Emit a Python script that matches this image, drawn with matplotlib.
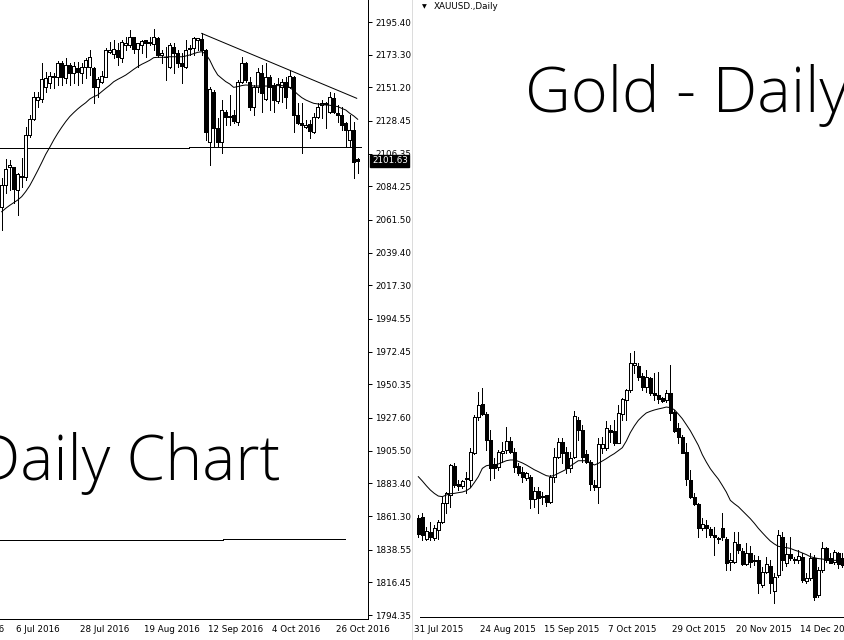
import numpy as np
import matplotlib.pyplot as plt
from matplotlib.lines import Line2D
from matplotlib.transforms import blended_transform_factory, offset_copy

# ---- left chart (2016) ----
left_open = [2070.5, 2085.2, 2097.1, 2097.1, 2081.8, 2090.4, 2090.8, 2119.0, 2129.8, 2142.7,
             2143.1, 2151.7, 2153.9, 2158.0, 2158.0, 2167.5, 2157.3, 2166.3, 2161.2, 2164.1,
             2161.2, 2165.2, 2165.2, 2164.1, 2151.2, 2155.1, 2158.5, 2175.4, 2173.8, 2176.5,
             2170.9, 2179.9, 2179.9, 2185.1, 2176.9, 2179.9, 2183.3, 2181.0, 2180.5, 2184.4,
             2173.1, 2172.0, 2165.2, 2178.7, 2174.7, 2167.9, 2165.2, 2176.9, 2177.6, 2183.3,
             2183.7, 2176.5, 2114.5, 2148.3, 2123.5, 2114.5, 2134.8, 2131.9, 2132.5, 2128.0,
             2155.1, 2167.5, 2155.1, 2138.2, 2151.7, 2160.7, 2143.1, 2158.0, 2152.8, 2142.2,
             2151.7, 2155.1, 2151.2, 2158.5, 2132.5, 2126.9, 2124.2, 2126.4, 2121.3, 2131.4,
             2139.3, 2140.4, 2134.8, 2143.8, 2133.7, 2132.5, 2126.9, 2115.6, 2122.4, 2102.6]
left_high = [2089.7, 2102.6, 2102.1, 2097.6, 2093.1, 2103.2, 2124.6, 2132.5, 2148.3, 2148.3,
             2167.5, 2161.8, 2161.8, 2160.7, 2169.1, 2169.1, 2170.9, 2167.5, 2168.6, 2168.6,
             2167.5, 2170.9, 2176.5, 2165.2, 2158.0, 2162.5, 2177.6, 2182.1, 2183.3, 2181.0,
             2183.3, 2185.5, 2190.0, 2185.5, 2181.4, 2183.3, 2183.3, 2185.5, 2190.5, 2185.5,
             2176.5, 2178.7, 2181.0, 2181.0, 2176.5, 2174.2, 2183.3, 2179.9, 2185.5, 2184.4,
             2187.7, 2176.9, 2151.2, 2149.4, 2130.3, 2142.7, 2135.9, 2146.1, 2135.9, 2156.2,
             2171.5, 2168.6, 2158.5, 2152.8, 2164.1, 2166.3, 2167.5, 2159.6, 2153.9, 2157.3,
             2156.7, 2158.5, 2163.0, 2158.9, 2140.4, 2140.9, 2129.2, 2129.2, 2133.7, 2140.4,
             2142.7, 2141.5, 2148.3, 2147.2, 2139.3, 2138.2, 2128.0, 2132.5, 2128.0, 2103.2]
left_low = [2054.8, 2079.6, 2081.8, 2072.8, 2064.9, 2084.1, 2088.6, 2117.9, 2129.2, 2138.2,
            2141.5, 2148.3, 2150.6, 2150.6, 2152.8, 2152.8, 2153.9, 2152.8, 2153.9, 2152.8,
            2153.9, 2157.3, 2159.6, 2140.4, 2144.9, 2153.9, 2158.0, 2174.2, 2170.9, 2166.3,
            2168.6, 2176.5, 2178.7, 2174.2, 2165.2, 2174.2, 2172.0, 2179.9, 2176.5, 2172.0,
            2167.5, 2156.2, 2164.1, 2160.7, 2165.2, 2153.9, 2164.1, 2173.1, 2173.1, 2176.5,
            2173.1, 2115.6, 2098.7, 2111.1, 2111.1, 2106.6, 2125.8, 2125.8, 2126.9, 2125.8,
            2153.9, 2155.1, 2135.9, 2132.5, 2148.3, 2134.8, 2142.7, 2135.9, 2134.8, 2140.4,
            2141.5, 2137.0, 2150.6, 2121.3, 2126.4, 2106.6, 2123.5, 2116.8, 2120.1, 2130.3,
            2130.3, 2123.5, 2133.7, 2133.7, 2128.0, 2122.4, 2111.1, 2111.1, 2089.7, 2093.5]
left_close = [2085.2, 2095.8, 2098.7, 2082.3, 2092.6, 2091.3, 2119.0, 2129.6, 2144.5, 2144.9,
              2156.7, 2157.3, 2158.9, 2158.9, 2167.9, 2158.5, 2166.3, 2161.2, 2165.7, 2161.8,
              2165.2, 2169.7, 2171.5, 2151.2, 2156.7, 2158.9, 2176.5, 2176.5, 2176.9, 2172.0,
              2182.1, 2181.0, 2185.5, 2176.9, 2181.0, 2182.8, 2181.0, 2182.1, 2185.5, 2173.1,
              2174.2, 2171.5, 2179.9, 2174.2, 2167.5, 2165.7, 2176.5, 2178.1, 2184.4, 2184.4,
              2176.5, 2121.3, 2149.9, 2123.5, 2114.5, 2135.9, 2131.4, 2130.9, 2128.7, 2155.1,
              2167.5, 2156.2, 2138.2, 2151.7, 2161.8, 2147.2, 2158.0, 2151.7, 2142.7, 2153.5,
              2155.1, 2144.9, 2158.9, 2132.5, 2126.9, 2125.8, 2125.8, 2121.7, 2131.4, 2138.2,
              2140.4, 2140.0, 2144.9, 2134.8, 2132.5, 2125.8, 2122.4, 2122.4, 2101.0, 2101.63]
left_ma = [2067.1, 2069.4, 2071.4, 2073.2, 2075.0, 2077.3, 2080.7, 2084.7, 2089.7, 2094.9,
           2100.3, 2105.9, 2110.6, 2115.6, 2120.1, 2124.2, 2128.0, 2131.4, 2134.1, 2136.6,
           2138.8, 2140.8, 2143.3, 2144.9, 2146.0, 2148.3, 2150.5, 2152.6, 2155.0, 2156.6,
           2158.0, 2159.5, 2161.4, 2163.4, 2165.2, 2166.8, 2168.1, 2169.5, 2171.3, 2171.5,
           2171.5, 2171.7, 2171.9, 2171.9, 2171.9, 2171.9, 2172.4, 2173.1, 2174.0, 2174.9,
           2175.3, 2173.8, 2169.7, 2164.1, 2159.6, 2157.3, 2155.1, 2153.5, 2151.2, 2151.7,
           2152.4, 2152.8, 2152.6, 2152.1, 2152.1, 2152.1, 2152.1, 2152.1, 2152.1, 2152.4,
           2152.4, 2152.1, 2151.2, 2149.0, 2146.5, 2144.3, 2142.7, 2141.5, 2140.4, 2140.0,
           2139.5, 2139.3, 2139.1, 2138.6, 2138.2, 2137.0, 2135.9, 2133.7, 2131.9, 2129.6]
left_dates = ["6 Jul 2016", "28 Jul 2016", "19 Aug 2016", "12 Sep 2016", "4 Oct 2016", "26 Oct 2016"]
left_date_bars = [3, 19, 35, 51, 67, 83]
trend_bars = [50, 88.75]
trend_prices = [2187.7, 2143.8]
support_bars = [-0.5, 46.8, 89.8]
support_prices = [2110.4, 2110.9]
lower_bars = [-0.5, 55.3, 85.8]
lower_prices = [1845.1, 1845.6]
last_price = 2101.63

price_ticks = [2195.40, 2173.30, 2151.20, 2128.45, 2106.35, 2084.25, 2061.50, 2039.40, 2017.30,
               1994.55, 1972.45, 1950.35, 1927.60, 1905.50, 1883.40, 1861.30, 1838.55, 1816.45, 1794.35]

# ---- right chart (2015) ----
right_open = [1859.7, 1860.4, 1845.5, 1850.7, 1846.2, 1851.8, 1857.5, 1869.9, 1875.5, 1895.1,
              1883.0, 1881.6, 1886.1, 1885.7, 1903.7, 1928.5, 1937.1, 1930.3, 1912.7, 1896.5,
              1894.7, 1904.1, 1905.9, 1912.0, 1904.8, 1895.1, 1891.3, 1887.2, 1887.9, 1872.6,
              1878.2, 1875.1, 1875.5, 1871.0, 1887.9, 1901.4, 1911.6, 1904.8, 1893.5, 1901.0,
              1926.2, 1919.5, 1903.2, 1898.0, 1882.3, 1880.7, 1907.1, 1907.1, 1919.5, 1919.0,
              1910.9, 1930.3, 1939.8, 1946.5, 1963.4, 1962.8, 1956.0, 1948.3, 1954.4, 1944.7,
              1943.1, 1940.9, 1939.8, 1944.3, 1931.9, 1920.6, 1915.0, 1904.4, 1885.7, 1874.4,
              1869.4, 1853.0, 1855.2, 1852.5, 1848.5, 1846.7, 1853.0, 1845.5, 1830.4, 1830.4,
              1842.4, 1837.9, 1828.9, 1836.1, 1831.6, 1831.6, 1814.6, 1823.6, 1827.5, 1810.8,
              1821.4, 1847.3, 1829.8, 1835.6, 1832.5, 1831.6, 1833.4, 1817.6, 1819.2, 1832.7,
              1807.9, 1824.8, 1839.4, 1832.7, 1830.4, 1836.1, 1832.7]
right_high = [1862.0, 1863.1, 1854.1, 1857.5, 1855.2, 1858.6, 1874.4, 1877.8, 1896.5, 1896.9,
              1885.7, 1885.7, 1891.3, 1907.1, 1929.6, 1945.4, 1947.7, 1931.9, 1919.5, 1900.3,
              1905.9, 1911.6, 1921.7, 1915.0, 1907.1, 1897.4, 1894.7, 1891.3, 1889.0, 1881.2,
              1881.2, 1877.8, 1875.5, 1889.0, 1907.1, 1913.8, 1913.8, 1908.2, 1904.8, 1932.6,
              1928.5, 1922.9, 1905.9, 1899.2, 1885.7, 1913.8, 1915.0, 1925.8, 1922.9, 1926.2,
              1936.4, 1940.9, 1947.0, 1971.3, 1973.1, 1964.6, 1957.8, 1960.1, 1955.1, 1957.8,
              1958.9, 1942.0, 1946.5, 1963.4, 1933.0, 1924.0, 1916.1, 1910.5, 1892.4, 1876.6,
              1869.9, 1859.7, 1858.6, 1854.1, 1854.1, 1847.3, 1863.1, 1847.3, 1836.1, 1850.7,
              1850.7, 1839.4, 1842.8, 1841.0, 1834.9, 1834.3, 1827.1, 1833.8, 1831.6, 1822.5,
              1851.8, 1850.7, 1842.8, 1847.3, 1833.8, 1838.3, 1836.1, 1822.5, 1836.1, 1834.9,
              1827.1, 1843.9, 1840.6, 1836.1, 1838.3, 1837.2, 1836.1]
right_low = [1847.3, 1845.1, 1845.1, 1845.1, 1845.1, 1845.5, 1856.3, 1863.1, 1867.6, 1881.2,
             1878.9, 1880.0, 1876.6, 1881.2, 1903.2, 1926.2, 1929.6, 1905.9, 1885.7, 1886.8,
             1892.4, 1898.0, 1903.7, 1903.7, 1891.3, 1889.0, 1884.5, 1885.7, 1866.5, 1867.6,
             1863.6, 1869.4, 1868.1, 1869.9, 1884.5, 1900.3, 1896.9, 1890.2, 1891.3, 1900.3,
             1912.7, 1898.0, 1896.9, 1878.9, 1878.9, 1870.3, 1903.7, 1905.9, 1911.6, 1909.3,
             1910.5, 1926.2, 1926.2, 1945.4, 1957.8, 1953.3, 1946.5, 1945.4, 1943.1, 1939.8,
             1937.5, 1938.6, 1938.6, 1926.2, 1918.3, 1910.5, 1903.7, 1882.3, 1873.3, 1868.8,
             1847.3, 1851.8, 1847.3, 1847.3, 1834.9, 1842.8, 1845.1, 1824.8, 1824.8, 1829.3,
             1836.1, 1828.2, 1828.2, 1827.1, 1828.2, 1809.0, 1813.5, 1822.5, 1809.0, 1802.3,
             1820.3, 1824.8, 1827.5, 1831.6, 1829.3, 1829.3, 1816.9, 1816.2, 1818.0, 1804.5,
             1806.8, 1823.7, 1830.4, 1829.3, 1828.9, 1825.9, 1827.1]
right_close = [1849.1, 1848.5, 1851.2, 1847.3, 1853.0, 1857.5, 1869.9, 1876.6, 1895.8, 1882.3,
               1881.6, 1885.0, 1886.8, 1904.8, 1928.5, 1936.4, 1930.3, 1912.7, 1893.5, 1893.5,
               1904.8, 1905.5, 1912.0, 1904.8, 1894.7, 1890.2, 1887.9, 1890.2, 1872.6, 1878.4,
               1873.3, 1874.4, 1870.6, 1887.9, 1901.4, 1911.6, 1903.7, 1893.5, 1900.3, 1928.9,
               1919.5, 1901.4, 1898.0, 1882.7, 1881.2, 1909.8, 1910.0, 1920.6, 1918.3, 1910.9,
               1930.7, 1940.2, 1946.5, 1964.6, 1965.0, 1955.5, 1948.3, 1955.1, 1944.3, 1943.1,
               1940.2, 1939.1, 1944.7, 1931.2, 1919.0, 1914.5, 1904.1, 1886.1, 1874.4, 1869.2,
               1853.0, 1855.9, 1853.0, 1848.5, 1847.3, 1845.5, 1847.3, 1829.8, 1831.6, 1843.9,
               1838.3, 1828.9, 1836.1, 1830.4, 1831.1, 1815.8, 1823.6, 1828.9, 1815.8, 1820.3,
               1848.5, 1831.6, 1835.6, 1832.7, 1831.6, 1834.3, 1818.0, 1819.2, 1832.7, 1806.8,
               1824.8, 1839.4, 1831.6, 1829.8, 1837.2, 1828.9, 1828.2]
right_ma = [1887.9, 1885.0, 1881.8, 1878.9, 1876.6, 1874.8, 1874.4, 1875.5, 1876.4, 1876.6,
            1877.1, 1877.5, 1878.4, 1880.2, 1883.9, 1887.9, 1893.5, 1895.3, 1895.8, 1895.8,
            1896.5, 1897.6, 1898.7, 1899.2, 1899.2, 1898.3, 1897.2, 1895.8, 1894.2, 1892.6,
            1891.3, 1889.9, 1888.6, 1888.1, 1888.8, 1890.2, 1891.5, 1892.9, 1895.1, 1896.9,
            1898.7, 1898.7, 1898.7, 1897.4, 1895.8, 1896.9, 1898.5, 1900.1, 1901.9, 1903.5,
            1905.5, 1907.5, 1912.0, 1917.7, 1922.2, 1926.0, 1928.7, 1931.0, 1932.1, 1933.0,
            1933.7, 1934.3, 1935.0, 1934.6, 1933.2, 1930.3, 1927.1, 1923.1, 1919.0, 1914.1,
            1909.1, 1902.8, 1897.8, 1893.3, 1889.7, 1886.3, 1882.0, 1877.5, 1871.9, 1869.6,
            1867.6, 1864.9, 1862.2, 1859.5, 1856.4, 1853.0, 1850.0, 1847.1, 1844.4, 1842.4,
            1840.8, 1840.3, 1839.9, 1839.4, 1838.3, 1837.4, 1836.3, 1835.2, 1833.8, 1833.1,
            1832.5, 1832.2, 1831.8, 1831.6, 1831.3, 1831.3, 1831.1]
right_dates = ["31 Jul 2015", "24 Aug 2015", "15 Sep 2015", "7 Oct 2015", "29 Oct 2015",
               "20 Nov 2015", "14 Dec 2015"]
right_date_bars = [-1.5, 15, 31, 47, 63, 79, 95]

W, H = 845, 640
PX = 0.72  # one pixel in points


def draw_candles(ax, o, h, l, c):
    o, h, l, c = map(np.asarray, (o, h, l, c))
    x = np.arange(len(o))
    ax.vlines(x, l, h, color="black", lw=PX, antialiased=False, zorder=2)
    up = c >= o
    bottom = np.minimum(o, c)
    height = np.maximum(np.abs(c - o), 0.4)
    ax.bar(x[up], height[up], bottom=bottom[up], width=0.6, facecolor="white",
           edgecolor="black", lw=PX, antialiased=False, zorder=3)
    ax.bar(x[~up], height[~up], bottom=bottom[~up], width=0.6, facecolor="black",
           edgecolor="black", lw=PX, antialiased=False, zorder=3)


fig = plt.figure(figsize=(W / 100, H / 100), dpi=100)
fig.patch.set_facecolor("white")

# left panel
ax1 = fig.add_axes([0, (H - 619) / H, 368 / W, 619 / H])
draw_candles(ax1, left_open, left_high, left_low, left_close)
ax1.plot(np.arange(len(left_ma)), left_ma, color="black", lw=PX, zorder=4)
ax1.plot(trend_bars, trend_prices, color="black", lw=PX)
ax1.plot(support_bars[:2], [support_prices[0]] * 2, color="black", lw=PX)
ax1.plot(support_bars[1:], [support_prices[1]] * 2, color="black", lw=PX)
ax1.plot(lower_bars[:2], [lower_prices[0]] * 2, color="black", lw=PX)
ax1.plot(lower_bars[1:], [lower_prices[1]] * 2, color="black", lw=PX)
ax1.set_xlim(-0.425, 91.575)
ax1.set_ylim(1791.65, 2210.28)
for s in ["top", "left"]:
    ax1.spines[s].set_visible(False)
for s in ["right", "bottom"]:
    ax1.spines[s].set_linewidth(PX)
ax1.yaxis.tick_right()
ax1.set_yticks(price_ticks)
ax1.set_yticklabels(["%.2f" % p for p in price_ticks])
ax1.tick_params(axis="y", length=3, width=PX, pad=2, labelsize=6.3)
ax1.set_xticks([])

tr1 = blended_transform_factory(ax1.transData, ax1.transAxes)
for b, lab in zip([-13] + left_date_bars, ["14 Jun 2016"] + left_dates):
    ax1.text(b, -0.017, lab, transform=offset_copy(tr1, fig=fig, x=2, units="dots"),
             ha="left", va="center", fontsize=6.3, clip_on=False)

ax1.text(1.0, last_price, "%.2f" % last_price,
         transform=offset_copy(blended_transform_factory(ax1.transAxes, ax1.transData),
                               fig=fig, x=4, units="dots"),
         ha="left", va="center", fontsize=6.3, color="white", zorder=10,
         bbox=dict(boxstyle="square,pad=0.18", fc="black", ec="black"))

# right panel
ax2 = fig.add_axes([413 / W, (H - 617) / H, (W - 413) / W, 617 / H])
draw_candles(ax2, right_open, right_high, right_low, right_close)
ax2.plot(np.arange(len(right_ma)), right_ma, color="black", lw=PX, zorder=4)
ax2.set_xlim(-1.33, 106.67)
ax2.set_ylim(1793.0, 2210.28)
for s in ["top", "left", "right"]:
    ax2.spines[s].set_visible(False)
ax2.spines["bottom"].set_linewidth(PX)
ax2.spines["bottom"].set_bounds(0.4, 106.67)
ax2.set_xticks([])
ax2.set_yticks([])

tr2 = blended_transform_factory(ax2.transData, ax2.transAxes)
for b, lab in zip(right_date_bars, right_dates):
    ax2.text(b, -0.020, lab, transform=offset_copy(tr2, fig=fig, x=2, units="dots"),
             ha="left", va="center", fontsize=6.3, clip_on=False)

ax2.text(0.02, 0.989, "\u25bc", transform=ax2.transAxes, fontsize=4.5, va="center", ha="left")
ax2.text(0.047, 0.989, "XAUUSD.,Daily", transform=ax2.transAxes, fontsize=6.3,
         va="center", ha="left")

fig.add_artist(Line2D([412.5 / W] * 2, [0, 1], color="#dcdcdc", lw=PX))

# big titles
fig.text(280 / W, (H - 480) / H, "Daily Chart", ha="right", va="baseline",
         fontsize=45, family="Open Sans", fontweight="light")
fig.text(525 / W, (H - 112) / H, "Gold - Daily", ha="left", va="baseline",
         fontsize=45.5, family="Open Sans", fontweight="light")

fig.savefig("out.png", dpi=100, facecolor="white")
